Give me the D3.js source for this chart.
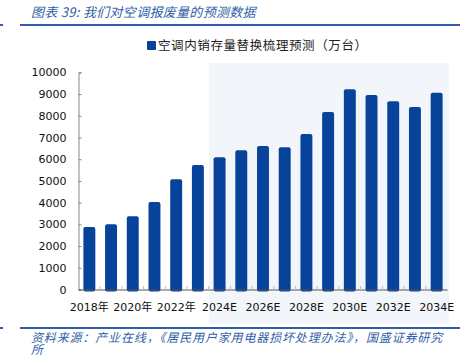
<!DOCTYPE html>
<html><head><meta charset="utf-8">
<script src="https://cdn.jsdelivr.net/npm/d3@7"></script>
<style>body{margin:0;background:#fff}svg{display:block}</style>
</head><body>
<svg id="c" width="468" height="356"></svg>
<script>
const categories = ["2018年","2019年","2020年","2021年","2022年","2023年","2024E","2025E","2026E","2027E","2028E","2029E","2030E","2031E","2032E","2033E","2034E"];
const values = [2875,3000,3370,4030,5075,5730,6090,6410,6610,6550,7160,8175,9220,8960,8670,8405,9065];
const yTicks = [0,1000,2000,3000,4000,5000,6000,7000,8000,9000,10000];
const xLabels = ["2018年","2020年","2022年","2024E","2026E","2028E","2030E","2032E","2034E"];
const forecastStart = "2024E";
const seriesName = "空调内销存量替换梳理预测（万台）";
const titleText = "图表 39:  我们对空调报废量的预测数据";
const sourceLine1 = "资料来源：产业在线，《居民用户家用电器损坏处理办法》，国盛证券研究";
const sourceLine2 = "所";

const svg = d3.select("#c");
const font = "'DejaVu Sans','Noto Sans CJK SC',sans-serif";
const cjk = "'Noto Sans CJK SC',sans-serif";
const blue = "#07439b";
const hdr = "#2f5fa8";

const x = d3.scaleBand().domain(categories).range([78.5, 447.5]).paddingInner(0.45).paddingOuter(0.225);
const y = d3.scaleLinear().domain([0, 10000]).range([289.5, 72.4]);
const step = x.step();
const gap = (step - x.bandwidth()) / 2;

// forecast shading
const fx = x(forecastStart) - gap;
svg.append("rect").attr("x", fx).attr("y", 63).attr("width", x.range()[1] + 1.5 - fx).attr("height", 324 - 63).attr("fill", "#f2f6fa");

// header
svg.append("text").attr("x", 31).attr("y", 17).attr("font-family", cjk).attr("font-size", 13)
  .attr("font-style", "italic").attr("letter-spacing", 0.3).attr("fill", hdr).text(titleText);
svg.append("line").attr("x1", 20).attr("x2", 460).attr("y1", 25).attr("y2", 25).attr("stroke", hdr).attr("stroke-width", 2);
svg.append("line").attr("x1", 0).attr("x2", 3).attr("y1", 25).attr("y2", 25).attr("stroke", hdr).attr("stroke-width", 2);

// legend
svg.append("rect").attr("x", 147).attr("y", 41).attr("width", 9).attr("height", 9).attr("rx", 1).attr("fill", blue);
svg.append("text").attr("x", 158).attr("y", 50).attr("font-family", cjk).attr("font-size", 12.5)
  .attr("letter-spacing", 0.6).attr("fill", "#222").text(seriesName);

// bars
svg.append("g").selectAll("rect").data(values).join("rect")
  .attr("x", (d, i) => x(categories[i])).attr("width", x.bandwidth())
  .attr("y", d => y(d)).attr("height", d => y(0) - y(d) + 2)
  .attr("rx", 2).attr("fill", blue);

// y axis
const ya = svg.append("g").attr("transform", "translate(78.5,0)")
  .call(d3.axisLeft(y).tickValues(yTicks).tickSize(-3).tickPadding(12).tickFormat(d3.format("d")));
ya.select(".domain").attr("stroke", "#888");
ya.selectAll(".tick line").attr("stroke", "#888");
ya.selectAll("text").attr("font-family", font).attr("font-size", 11).attr("fill", "#111");

// x axis
const xa = svg.append("g").attr("transform", "translate(0,290)")
  .call(d3.axisBottom(x).tickValues(xLabels).tickSize(0).tickPadding(13).tickSizeOuter(0));
xa.select(".domain").attr("stroke", "#555").attr("d", `M${x.range()[0]},0H${x.range()[1]}`);
xa.selectAll("text").attr("font-family", font).attr("font-size", 11).attr("fill", "#111");
xa.selectAll(".bt").data(categories.slice(1)).join("line").attr("class", "bt")
  .attr("x1", d => x(d) - gap).attr("x2", d => x(d) - gap).attr("y1", 0).attr("y2", -4)
  .attr("stroke", "#bbb");

// footer
svg.append("line").attr("x1", 20).attr("x2", 460).attr("y1", 328).attr("y2", 328).attr("stroke", hdr).attr("stroke-width", 2);
svg.append("line").attr("x1", 0).attr("x2", 3).attr("y1", 328).attr("y2", 328).attr("stroke", hdr).attr("stroke-width", 2);
svg.append("text").attr("x", 31).attr("y", 341.5).attr("font-family", cjk).attr("font-size", 12)
  .attr("font-style", "italic").attr("letter-spacing", 0.85).attr("fill", hdr).text(sourceLine1);
svg.append("text").attr("x", 31).attr("y", 353.5).attr("font-family", cjk).attr("font-size", 12)
  .attr("font-style", "italic").attr("fill", hdr).text(sourceLine2);
</script>
</body></html>
